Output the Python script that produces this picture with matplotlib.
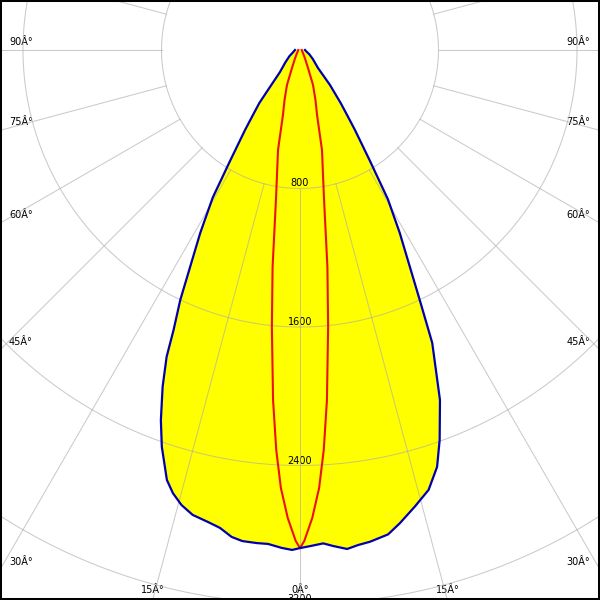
import numpy as np
import matplotlib
matplotlib.use("Agg")
import matplotlib.pyplot as plt
from matplotlib.patches import Rectangle

# ---- data (luminous intensity, cd) ----
# C0 plane (right half), blue
c0_gamma = [0, 1.2, 2.7, 3.8, 5.4, 6.7, 8.1, 10.3, 11.9, 14.1, 16.3, 18.2, 19.7,
            21.8, 24.3, 25.6, 28.6, 30.5, 32.2, 34.5, 35.9, 37.5, 40.6, 45,
            55, 65, 75, 90]
c0_cd = [2877, 2866, 2853, 2871, 2895, 2879, 2869, 2844, 2794, 2720, 2647, 2535, 2393,
         2177, 1856, 1600, 1204, 1000, 762, 560, 464, 386, 266, 147,
         90, 60, 40, 29]
# C180 plane (left half), blue
c180_gamma = [0, 0.9, 2.1, 3.7, 5.0, 6.7, 8.0, 9.5, 11.0, 13.0, 14.6, 16.0, 17.2,
              19.2, 20.6, 22.2, 23.5, 24.3, 25.6, 28.6, 30.6, 32.2, 34.5, 35.9,
              37.5, 38.7, 42.3, 50, 60, 70, 80, 90]
c180_cd = [2877, 2888, 2878, 2859, 2859, 2856, 2840, 2799, 2778, 2756, 2716, 2663, 2600,
           2427, 2284, 2100, 1932, 1775, 1600, 1204, 990, 762, 560, 464,
           386, 296, 172, 110, 70, 45, 35, 29]
# C90 / C270 plane, red
c90_gamma = [0, 0.5, 1.5, 2.5, 3.4, 4.4, 5.8, 7.2, 9.2, 12.4, 14.7, 17.2, 20.4,
             24, 30, 40, 60, 90]
c90_cd = [2877, 2836, 2704, 2532, 2314, 2028, 1608, 1263, 866, 591, 388, 302, 216,
          114, 60, 30, 15, 10]

ring_values = [800, 1600, 2400, 3200]
ring_labels = ["800", "1600", "2400", "3200"]
angle_ticks = [0, 15, 30, 45, 60, 75, 90]
angle_labels = ["0Â°", "15Â°", "30Â°", "45Â°", "60Â°", "75Â°", "90Â°"]

# ---- figure ----
W = 600.0
PX = 800 / 138.5          # cd per pixel
CX, CY = 300.0, 550.0      # polar centre in figure pixels (from bottom-left)
R = 700.0                  # polar axes radius in pixels
fig = plt.figure(figsize=(6, 6), dpi=100)
ax = fig.add_axes([(CX - R) / W, (CY - R) / W, 2 * R / W, 2 * R / W], projection="polar")
ax.set_theta_zero_location("S")
ax.set_theta_direction(1)
ax.set_ylim(0, R * PX)
ax.set_xticks([])
ax.set_yticks([])
ax.grid(False)
ax.spines["polar"].set_visible(False)
ax.patch.set_visible(False)

# blue filled curve (C180 on the left, C0 on the right)
th_l = -np.radians(np.asarray(c180_gamma, float))
th_r = np.radians(np.asarray(c0_gamma, float))
bth = np.concatenate([th_l[::-1], th_r])
br = np.concatenate([np.asarray(c180_cd, float)[::-1], np.asarray(c0_cd, float)])
ax.fill(bth, br, color="#ffff00", zorder=1, lw=0)
ax.plot(bth, br, color="#0000b0", lw=1.6, zorder=5, solid_joinstyle="round")

# red curve (C90 / C270)
rth = np.radians(np.asarray(c90_gamma, float))
ax.plot(np.concatenate([-rth[::-1], rth]),
        np.concatenate([np.asarray(c90_cd, float)[::-1], np.asarray(c90_cd, float)]),
        color="#ee1010", lw=1.5, zorder=4)

# grid
gcol = (0.667, 0.667, 0.667, 0.62)
t = np.linspace(0, 2 * np.pi, 721)
for v in ring_values:
    ax.plot(t, np.full_like(t, v), color=gcol, lw=0.75, zorder=3)
for a in range(0, 360, 15):
    ax.plot([np.radians(a)] * 2, [ring_values[0], R * PX], color=gcol, lw=0.75, zorder=3)

fs = 7
# ring labels
for v, lab in zip(ring_values, ring_labels):
    ax.annotate(lab, xy=(0, v), xytext=(0, 2), textcoords="offset pixels",
                ha="center", va="baseline", fontsize=fs, zorder=2,
                annotation_clip=False)

# angle labels where the radial lines meet the frame
for g, lab in zip(angle_ticks, angle_labels):
    gr = np.radians(g)
    if g >= 30:
        rh = CX * PX / np.sin(gr)
        ax.annotate(lab, xy=(-gr, rh), xytext=(9, 5), textcoords="offset pixels",
                    ha="left", va="baseline", fontsize=fs, zorder=2, annotation_clip=False)
        ax.annotate(lab, xy=(gr, rh), xytext=(-10, 5), textcoords="offset pixels",
                    ha="right", va="baseline", fontsize=fs, zorder=2, annotation_clip=False)
    else:
        rh = CY * PX / np.cos(gr)
        for sd in ([1] if g == 0 else [-1, 1]):
            ax.annotate(lab, xy=(sd * gr, rh), xytext=(0, 7), textcoords="offset pixels",
                        ha="center", va="baseline", fontsize=fs, zorder=2,
                        annotation_clip=False)

# black frame
fig.patches.append(Rectangle((0, 0), 1, 1, transform=fig.transFigure, fill=False,
                             edgecolor="black", lw=2.9, zorder=10))

fig.savefig("out.png", dpi=100)
